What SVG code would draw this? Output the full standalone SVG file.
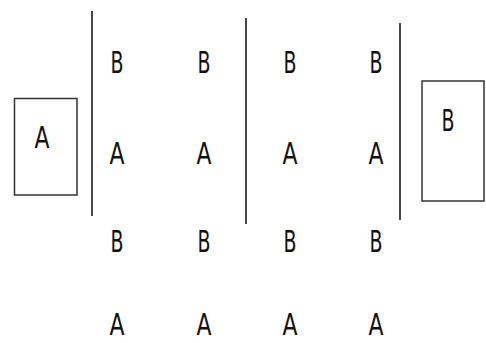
<svg xmlns="http://www.w3.org/2000/svg" width="486" height="343" viewBox="0 0 486 343">
<style>
.t{font-family:"DejaVu Sans Condensed","DejaVu Sans","Liberation Sans",sans-serif;font-size:30px;fill:#111;text-anchor:middle}
.b{fill:#fff;stroke:#333;stroke-width:1.5}
.l{stroke:#333;stroke-width:1.8;fill:none}
</style>
<rect width="486" height="343" fill="#fff"/>
<g id="nodeA"><rect class="b" x="14.5" y="98.5" width="62.5" height="96.5"/><text class="t" x="42" y="148" textLength="15" lengthAdjust="spacingAndGlyphs">A</text></g>
<g id="nodeB"><rect class="b" x="422" y="81" width="62" height="120"/><text class="t" x="448" y="131" textLength="13" lengthAdjust="spacingAndGlyphs">B</text></g>
<g id="connectors">
<line class="l" x1="92" y1="11" x2="92" y2="216"/>
<line class="l" x1="246" y1="18" x2="246" y2="224"/>
<line class="l" x1="400" y1="23" x2="400" y2="220"/>
</g>
<g id="grid">
<text class="t" x="117" y="73" textLength="13" lengthAdjust="spacingAndGlyphs">B</text><text class="t" x="204" y="73" textLength="13" lengthAdjust="spacingAndGlyphs">B</text><text class="t" x="290" y="73" textLength="13" lengthAdjust="spacingAndGlyphs">B</text><text class="t" x="376" y="73" textLength="13" lengthAdjust="spacingAndGlyphs">B</text>
<text class="t" x="117" y="164" textLength="15" lengthAdjust="spacingAndGlyphs">A</text><text class="t" x="204" y="164" textLength="15" lengthAdjust="spacingAndGlyphs">A</text><text class="t" x="290" y="164" textLength="15" lengthAdjust="spacingAndGlyphs">A</text><text class="t" x="376" y="164" textLength="15" lengthAdjust="spacingAndGlyphs">A</text>
<text class="t" x="117" y="252" textLength="13" lengthAdjust="spacingAndGlyphs">B</text><text class="t" x="204" y="252" textLength="13" lengthAdjust="spacingAndGlyphs">B</text><text class="t" x="290" y="252" textLength="13" lengthAdjust="spacingAndGlyphs">B</text><text class="t" x="376" y="252" textLength="13" lengthAdjust="spacingAndGlyphs">B</text>
<text class="t" x="117" y="335" textLength="15" lengthAdjust="spacingAndGlyphs">A</text><text class="t" x="204" y="335" textLength="15" lengthAdjust="spacingAndGlyphs">A</text><text class="t" x="290" y="335" textLength="15" lengthAdjust="spacingAndGlyphs">A</text><text class="t" x="376" y="335" textLength="15" lengthAdjust="spacingAndGlyphs">A</text>
</g>
</svg>
